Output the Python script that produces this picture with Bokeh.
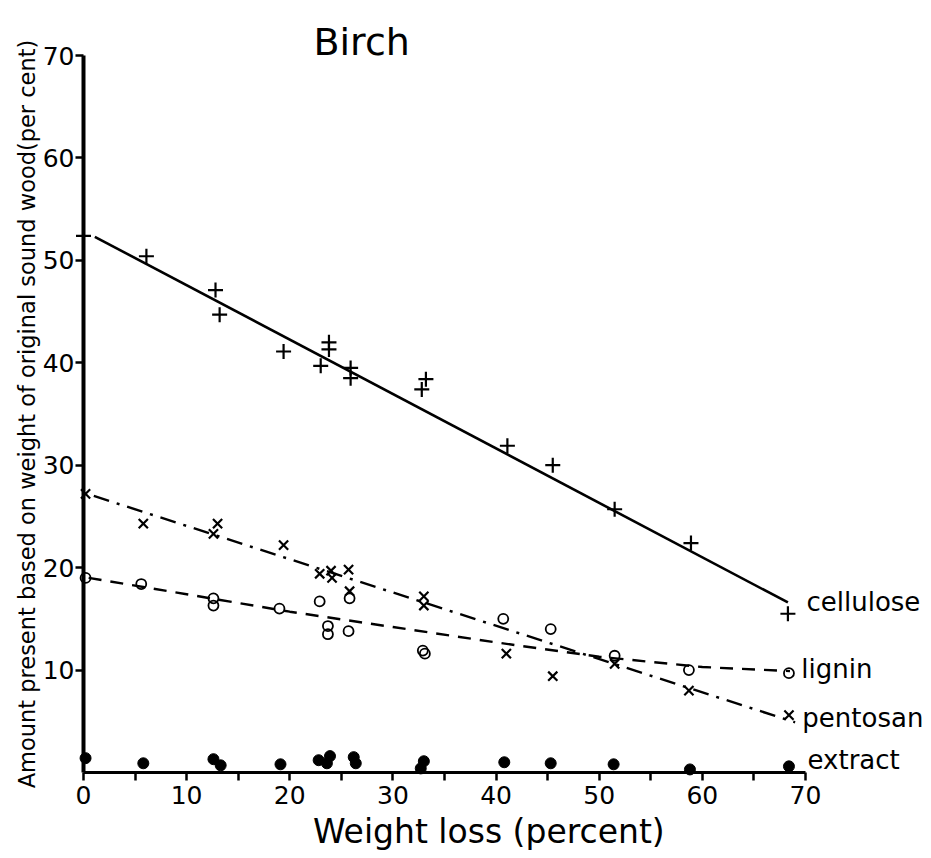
from bokeh.plotting import figure
from bokeh.models import Range1d, FixedTicker, Label
from bokeh.embed import file_html
from bokeh.resources import INLINE

# ---- data ----
cellulose_x = [0, 6.1, 12.8, 13.2, 19.4, 23.0, 23.8, 23.8, 25.9, 25.9, 32.8, 33.2, 41.1, 45.5, 51.5, 58.9, 68.3]
cellulose_y = [52.4, 50.4, 47.1, 44.7, 41.1, 39.7, 42.0, 41.3, 39.5, 38.5, 37.4, 38.4, 31.9, 30.0, 25.7, 22.4, 15.5]

pentosan_x = [0.2, 5.8, 12.6, 13.0, 19.4, 22.9, 24.0, 24.1, 25.7, 25.8, 33.0, 33.0, 41.0, 45.5, 51.5, 58.7, 68.4]
pentosan_y = [27.2, 24.3, 23.3, 24.3, 22.2, 19.4, 19.7, 19.0, 19.8, 17.7, 17.2, 16.3, 11.6, 9.4, 10.6, 8.0, 5.6]

lignin_x = [0.2, 5.6, 12.6, 12.6, 19.0, 22.9, 23.7, 23.7, 25.7, 25.8, 32.9, 33.1, 40.7, 45.3, 51.5, 58.7, 68.4]
lignin_y = [19.0, 18.4, 17.0, 16.3, 16.0, 16.7, 14.3, 13.5, 13.8, 17.0, 11.9, 11.6, 15.0, 14.0, 11.4, 10.0, 9.7]

extract_x = [0.2, 5.8, 12.6, 13.3, 19.1, 22.8, 23.6, 23.9, 26.2, 26.4, 33.0, 32.7, 40.8, 45.3, 51.4, 58.8, 68.4]
extract_y = [1.4, 0.9, 1.3, 0.7, 0.8, 1.2, 0.9, 1.6, 1.5, 0.9, 1.1, 0.4, 1.0, 0.9, 0.8, 0.3, 0.6]

# fitted curves as drawn
cellulose_fit_x = [1.1, 68.3]
cellulose_fit_y = [52.3, 16.6]
pentosan_fit_x = [1.0, 69.0]
pentosan_fit_y = [27.0, 4.9]
lignin_fit_x = [0.5, 10, 20, 30, 40, 50, 60, 68.5]
lignin_fit_y = [19.0, 17.4, 15.7, 14.2, 12.7, 11.3, 10.3, 9.9]

x_ticks = [0, 10, 20, 30, 40, 50, 60, 70]
x_minor = [5, 15, 25, 35, 45, 55, 65]
y_ticks = [10, 20, 30, 40, 50, 60, 70]

title_text = "Birch"
x_label = "Weight loss (percent)"
y_label = "Amount present based on weight of original sound wood(per cent)"
series_names = ["cellulose", "lignin", "pentosan", "extract"]

FONT = "DejaVu Sans"

W, H = 925, 850
p = figure(width=W, height=H,
           x_range=Range1d(-8.047, 81.64), y_range=Range1d(-7.615, 75.37),
           output_backend="svg", toolbar_location=None,
           min_border_left=0, min_border_right=0, min_border_top=0, min_border_bottom=0)
p.outline_line_color = None
p.grid.visible = False

# axes (drawn at data 0 inside the frame)
xa = p.xaxis[0]
xa.fixed_location = 0
xa.bounds = (0, 70)
xa.ticker = FixedTicker(ticks=x_ticks, minor_ticks=x_minor)
xa.axis_line_width = 3
xa.axis_line_color = "black"
xa.major_tick_line_width = 2.5
xa.minor_tick_line_width = 2.5
xa.major_tick_in = 0
xa.major_tick_out = 8
xa.minor_tick_in = 0
xa.minor_tick_out = 8
xa.major_label_text_font = FONT
xa.major_label_text_font_size = "25px"
xa.major_label_text_color = "black"
xa.major_label_standoff = 5

ya = p.yaxis[0]
ya.fixed_location = 0
ya.bounds = (0, 70)
ya.ticker = FixedTicker(ticks=y_ticks, minor_ticks=[])
ya.axis_line_width = 4
ya.axis_line_color = "black"
ya.major_tick_line_width = 2.5
ya.major_tick_in = 0
ya.major_tick_out = 8
ya.minor_tick_out = 0
ya.major_label_text_font = FONT
ya.major_label_text_font_size = "25px"
ya.major_label_text_color = "black"
ya.major_label_standoff = 1
ya.axis_label = y_label
ya.axis_label_text_font = FONT
ya.axis_label_text_font_size = "22.5px"
ya.axis_label_text_font_style = "normal"
ya.axis_label_text_color = "black"
ya.axis_label_standoff = 0

# x-axis title (sits right of centre in the original)
p.add_layout(Label(x=39.3, y=-5.8, text=x_label, text_font=FONT, text_font_size="33px",
                   text_color="black", text_baseline="middle", text_align="center"))

# fitted lines
p.line(cellulose_fit_x, cellulose_fit_y, line_color="black", line_width=2.6)
p.line(lignin_fit_x, lignin_fit_y, line_color="black", line_width=2.4, line_dash="13 9")
p.line(pentosan_fit_x, pentosan_fit_y, line_color="black", line_width=2.4, line_dash="16 8 3 8")

# points
p.scatter(cellulose_x, cellulose_y, marker="cross", size=15, line_color="black", line_width=2.2)
p.scatter(pentosan_x, pentosan_y, marker="x", size=13, line_color="black", line_width=2.2)
p.scatter(lignin_x, lignin_y, marker="circle", size=10, line_color="black", line_width=1.8, fill_color=None)
p.scatter(extract_x, extract_y, marker="circle", size=11, line_color="black", fill_color="black")

# title and series labels
p.add_layout(Label(x=22.3, y=71.3, text=title_text, text_font=FONT, text_font_size="38px",
                   text_color="black", text_baseline="middle", text_align="left"))
label_pos = [(70.1, 16.6), (69.6, 10.1), (69.7, 5.3), (70.2, 1.2)]
for name, (lx, ly) in zip(series_names, label_pos):
    p.add_layout(Label(x=lx, y=ly, text=name, text_font=FONT, text_font_size="26px",
                       text_color="black", text_baseline="middle", text_align="left"))

open("out.html", "w").write(file_html(p, INLINE))
